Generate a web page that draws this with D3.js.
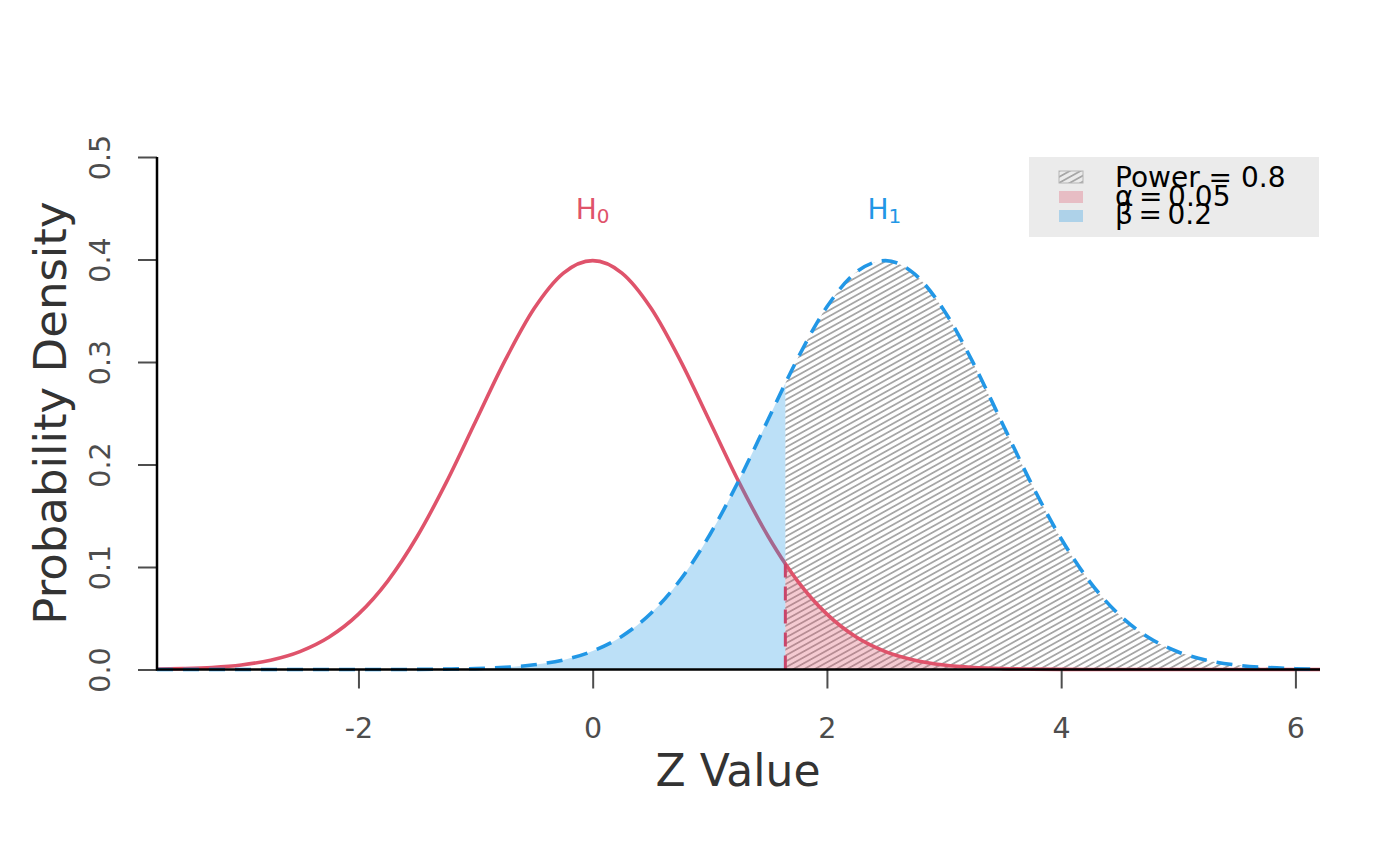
<!DOCTYPE html>
<html>
<head>
<meta charset="utf-8">
<script src="https://cdn.jsdelivr.net/npm/d3@7"></script>
<style>
  body { margin: 0; background: #fff; }
  svg text { font-family: "DejaVu Sans", sans-serif; }
</style>
</head>
<body>
<div id="vis_canvas"></div>
<script>
var zs = [-3.72, -3.5, -3.25, -3.0, -2.75, -2.5, -2.25, -2.0, -1.75, -1.5, -1.25, -1.0,
          -0.75, -0.5, -0.25, 0, 0.25, 0.5, 0.75, 1.0, 1.25, 1.5, 1.645, 1.75, 2.0, 2.25,
          2.5, 2.75, 3.0, 3.25, 3.5, 3.75, 4.0, 4.25, 4.5, 4.75, 5.0, 5.25, 5.5, 5.75, 6.0, 6.21];

// H0 density (red solid)
var h0_dens = [0.0004, 0.0009, 0.0020, 0.0044, 0.0091, 0.0175, 0.0317, 0.0540, 0.0863, 0.1295, 0.1826, 0.2420,
               0.3011, 0.3521, 0.3867, 0.3989, 0.3867, 0.3521, 0.3011, 0.2420, 0.1826, 0.1295, 0.1031, 0.0863, 0.0540, 0.0317,
               0.0175, 0.0091, 0.0044, 0.0020, 0.0009, 0.0004, 0.0001, 0, 0, 0, 0, 0, 0, 0, 0, 0];

// H1 density (blue dashed)
var h1_dens = [0, 0, 0, 0, 0, 0, 0, 0, 0, 0.0001, 0.0004, 0.0009,
               0.0021, 0.0046, 0.0093, 0.0180, 0.0325, 0.0551, 0.0878, 0.1315, 0.1849, 0.2444, 0.2792, 0.3034, 0.3538, 0.3876,
               0.3989, 0.3857, 0.3503, 0.2989, 0.2396, 0.1804, 0.1276, 0.0848, 0.0529, 0.0310, 0.0171, 0.0088, 0.0043, 0.0020, 0.0008, 0.0004];

var crit = 1.645;
var x_ticks = [-2, 0, 2, 4, 6];
var y_ticks = [0.0, 0.1, 0.2, 0.3, 0.4, 0.5];
var legend_labels = ["Power = 0.8", "\u03b1\u2009=\u20090.05", "\u03b2\u2009=\u20090.2"];

var red = "#DF536B", blue = "#2297E6";

var W = 1400, H = 866;
var svg = d3.select("#vis_canvas").append("svg")
    .attr("width", W).attr("height", H);

var x = d3.scaleLinear().domain([-3.72, 6.21]).range([157, 1320]);
var y = d3.scaleLinear().domain([0, 0.5]).range([669.5, 157]);

var pts = zs.map(function(z, i) { return {z: z, h0: h0_dens[i], h1: h1_dens[i]}; });
var left = pts.filter(function(d) { return d.z <= crit; });
var right = pts.filter(function(d) { return d.z >= crit; });

// hatch pattern, lines rising to the right
var defs = svg.append("defs");
var pat = defs.append("pattern")
    .attr("id", "hatch")
    .attr("patternUnits", "userSpaceOnUse")
    .attr("width", 10).attr("height", 5.2)
    .attr("patternTransform", "rotate(-29)");
pat.append("line")
    .attr("x1", 0).attr("y1", 2.6).attr("x2", 10).attr("y2", 2.6)
    .attr("stroke", "#A6A6A6").attr("stroke-width", 1.8);

var area = function(key) {
  return d3.area().curve(d3.curveMonotoneX)
    .x(function(d) { return x(d.z); })
    .y0(y(0))
    .y1(function(d) { return y(d[key]); });
};
var line = function(key) {
  return d3.line().curve(d3.curveMonotoneX)
    .x(function(d) { return x(d.z); })
    .y(function(d) { return y(d[key]); });
};

// power region (hatched)
svg.append("path").datum(right).attr("d", area("h1")).attr("fill", "url(#hatch)");

// curves
svg.append("path").datum(pts).attr("d", line("h0"))
    .attr("fill", "none").attr("stroke", red).attr("stroke-width", 3.6);
svg.append("path").datum(pts).attr("d", line("h1"))
    .attr("fill", "none").attr("stroke", blue).attr("stroke-width", 3.6)
    .attr("stroke-dasharray", "16,10");

// beta region
svg.append("path").datum(left).attr("d", area("h1"))
    .attr("fill", blue).attr("fill-opacity", 0.3);
// alpha region
svg.append("path").datum(right).attr("d", area("h0"))
    .attr("fill", red).attr("fill-opacity", 0.3);

// critical value
svg.append("line")
    .attr("x1", x(crit)).attr("x2", x(crit))
    .attr("y1", y(0)).attr("y2", y(h0_dens[zs.indexOf(crit)]))
    .attr("stroke", "#C8456A").attr("stroke-width", 3)
    .attr("stroke-dasharray", "14,9");

// axes
var xg = svg.append("g").attr("transform", "translate(0," + y(0) + ")")
    .call(d3.axisBottom(x).tickValues(x_ticks).tickSize(19)
      .tickFormat(function(d) { return String(d); }));
xg.select(".domain").remove();
xg.selectAll(".tick line").attr("stroke", "#4D4D4D").attr("stroke-width", 2);
xg.selectAll(".tick text").attr("y", 68).attr("dy", null)
    .style("font-size", "28.5px").attr("fill", "#4D4D4D");

var yg = svg.append("g").attr("transform", "translate(" + x(-3.72) + ",0)")
    .call(d3.axisLeft(y).tickValues(y_ticks).tickSize(19).tickFormat(d3.format(".1f")));
yg.select(".domain").remove();
yg.selectAll(".tick line").attr("stroke", "#4D4D4D").attr("stroke-width", 2);
yg.selectAll(".tick text")
    .attr("x", null).attr("dy", null)
    .attr("text-anchor", "middle")
    .attr("transform", "translate(-47,0) rotate(-90)")
    .style("font-size", "28.5px").attr("fill", "#4D4D4D");

// L-shaped frame
svg.append("path")
    .attr("d", "M" + x(-3.72) + "," + y(0.5) + "V" + y(0) + "H" + x(6.21))
    .attr("fill", "none").attr("stroke", "#000").attr("stroke-width", 2.5);

// titles
svg.append("text").attr("x", 738).attr("y", 786)
    .attr("text-anchor", "middle").style("font-size", "44px").attr("fill", "#333")
    .text("Z Value");
svg.append("text").attr("transform", "translate(66,413) rotate(-90)")
    .attr("text-anchor", "middle").style("font-size", "45px").attr("fill", "#333")
    .text("Probability Density");

// curve labels
var lab = function(cx, sub, col) {
  var t = svg.append("text").attr("x", cx).attr("y", 219)
      .attr("text-anchor", "middle").style("font-size", "28px").attr("fill", col);
  t.append("tspan").text("H");
  t.append("tspan").style("font-size", "20px").attr("dy", 4).text(sub);
};
lab(x(0), "0", red);
lab(x(2.49), "1", blue);

// legend
svg.append("rect").attr("x", 1029).attr("y", 157).attr("width", 290).attr("height", 80)
    .attr("fill", "#EBEBEB");
var sw_fill = ["url(#hatch)", red, blue];
var sw_op = [1, 0.3, 0.3];
var sw_y = [171, 191, 210];
var txt_y = [187, 206, 224];
sw_fill.forEach(function(f, i) {
  svg.append("rect").attr("x", 1059).attr("y", sw_y[i]).attr("width", 24).attr("height", 12)
      .attr("fill", f).attr("fill-opacity", sw_op[i])
      .attr("stroke", i == 0 ? "#B5B5B5" : "none").attr("stroke-width", 1);
  svg.append("text").attr("x", 1115).attr("y", txt_y[i])
      .style("font-size", "28px").attr("fill", "#000")
      .text(legend_labels[i]);
});
</script>
</body>
</html>
